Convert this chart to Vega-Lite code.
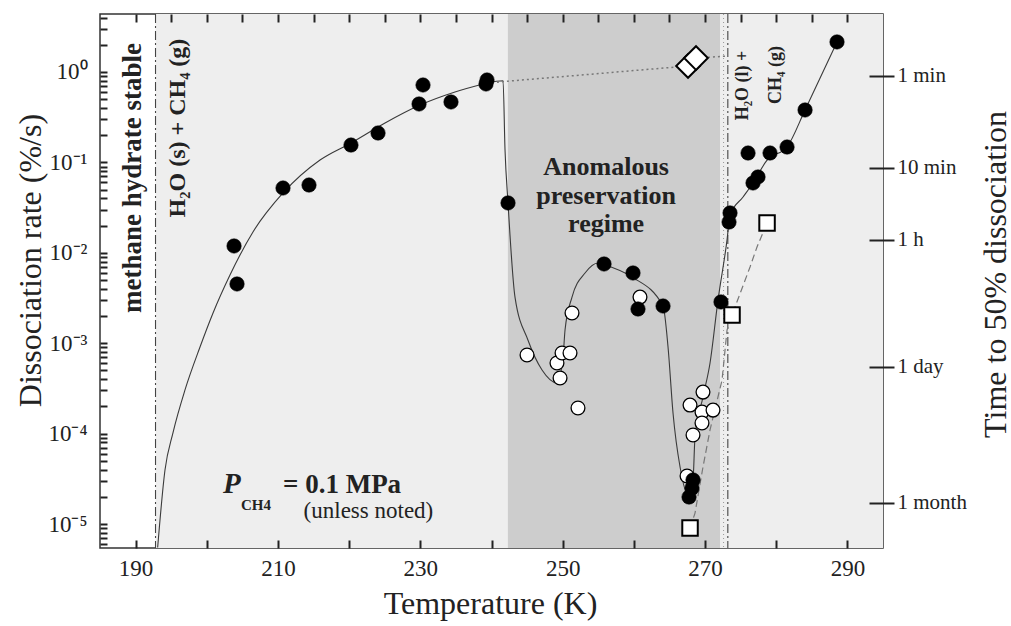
{
  "$schema": "https://vega.github.io/schema/vega-lite/v6.json",
  "width": 783,
  "height": 534,
  "autosize": {"type": "none"},
  "padding": {"left": 100, "top": 14, "right": 128, "bottom": 78},
  "background": "white",
  "config": {
    "view": {"stroke": "#333333", "strokeWidth": 1.5},
    "font": "Liberation Serif",
    "axis": {
      "domain": false, "grid": false,
      "labelFont": "Liberation Serif", "titleFont": "Liberation Serif",
      "labelColor": "#222222", "titleColor": "#222222",
      "titleFontWeight": "normal", "labelOverlap": false, "labelFlush": false
    }
  },
  "datasets": {
    "regions": [
      {"T1": 192.8, "T2": 295, "zone": "hydrate"},
      {"T1": 242.3, "T2": 272.1, "zone": "anomalous"}
    ],
    "vlines": [
      {"T": 192.8, "kind": "dashdot"},
      {"T": 273.2, "kind": "dashdot"},
      {"T": 272.6, "kind": "dotted"}
    ],
    "curves": [
      {"s": "fit", "o": 1, "T": 193.1, "r": 5.5e-6},
      {"s": "fit", "o": 2, "T": 194.13, "r": 3.96e-5},
      {"s": "fit", "o": 3, "T": 195.25, "r": 1.02e-4},
      {"s": "fit", "o": 4, "T": 196.94, "r": 3.04e-4},
      {"s": "fit", "o": 5, "T": 199.05, "r": 9.07e-4},
      {"s": "fit", "o": 6, "T": 200.88, "r": 2.16e-3},
      {"s": "fit", "o": 7, "T": 203.26, "r": 5.68e-3},
      {"s": "fit", "o": 8, "T": 206.49, "r": 0.017},
      {"s": "fit", "o": 9, "T": 210.71, "r": 0.0459},
      {"s": "fit", "o": 10, "T": 215.91, "r": 0.1063},
      {"s": "fit", "o": 11, "T": 220.26, "r": 0.164},
      {"s": "fit", "o": 12, "T": 225.04, "r": 0.273},
      {"s": "fit", "o": 13, "T": 229.96, "r": 0.431},
      {"s": "fit", "o": 14, "T": 234.87, "r": 0.601},
      {"s": "fit", "o": 15, "T": 239.37, "r": 0.756},
      {"s": "anom", "o": 1, "T": 239.37, "r": 0.756},
      {"s": "anom", "o": 2, "T": 241.62, "r": 0.8},
      {"s": "anom", "o": 3, "T": 241.9, "r": 0.137},
      {"s": "anom", "o": 4, "T": 242.32, "r": 0.0356},
      {"s": "anom", "o": 5, "T": 243.3, "r": 3.24e-3},
      {"s": "anom", "o": 6, "T": 245.13, "r": 1.08e-3},
      {"s": "anom", "o": 7, "T": 247.1, "r": 5.06e-4},
      {"s": "anom", "o": 8, "T": 249.2, "r": 3.63e-4},
      {"s": "anom", "o": 9, "T": 250.05, "r": 7.04e-4},
      {"s": "anom", "o": 10, "T": 250.33, "r": 1.4e-3},
      {"s": "anom", "o": 11, "T": 251.31, "r": 3.24e-3},
      {"s": "anom", "o": 12, "T": 253.14, "r": 5.98e-3},
      {"s": "anom", "o": 13, "T": 254.96, "r": 7.71e-3},
      {"s": "anom", "o": 14, "T": 255.95, "r": 7.33e-3},
      {"s": "anom", "o": 15, "T": 259.74, "r": 5.4e-3},
      {"s": "anom", "o": 16, "T": 264.1, "r": 2.58e-3},
      {"s": "anom", "o": 17, "T": 264.8, "r": 9.08e-4},
      {"s": "anom", "o": 18, "T": 265.5, "r": 1.69e-4},
      {"s": "anom", "o": 19, "T": 266.49, "r": 4.27e-5},
      {"s": "anom", "o": 20, "T": 267.61, "r": 2.09e-5},
      {"s": "anom", "o": 21, "T": 268.31, "r": 3.07e-5},
      {"s": "anom", "o": 22, "T": 268.59, "r": 9.17e-5},
      {"s": "anom", "o": 23, "T": 269.71, "r": 2.54e-4},
      {"s": "anom", "o": 24, "T": 270.7, "r": 6.04e-4},
      {"s": "anom", "o": 25, "T": 271.82, "r": 3.0e-3},
      {"s": "anom", "o": 26, "T": 273.09, "r": 0.0139},
      {"s": "anom", "o": 27, "T": 273.51, "r": 0.0262},
      {"s": "anom", "o": 28, "T": 275.34, "r": 0.0414},
      {"s": "anom", "o": 29, "T": 276.74, "r": 0.0592},
      {"s": "anom", "o": 30, "T": 278.71, "r": 0.106},
      {"s": "anom", "o": 31, "T": 281.52, "r": 0.148},
      {"s": "anom", "o": 32, "T": 284.05, "r": 0.38},
      {"s": "anom", "o": 33, "T": 288.54, "r": 2.15},
      {"s": "dot", "o": 1, "T": 239.37, "r": 0.756},
      {"s": "dot", "o": 2, "T": 267.61, "r": 1.165},
      {"s": "dot", "o": 3, "T": 268.73, "r": 1.428},
      {"s": "dot", "o": 4, "T": 273.1, "r": 1.5},
      {"s": "dash", "o": 1, "T": 267.89, "r": 9.03e-6},
      {"s": "dash", "o": 2, "T": 268.59, "r": 1.32e-5},
      {"s": "dash", "o": 3, "T": 269.71, "r": 4.27e-5},
      {"s": "dash", "o": 4, "T": 270.7, "r": 1.1e-4},
      {"s": "dash", "o": 5, "T": 272.39, "r": 3.92e-4},
      {"s": "dash", "o": 6, "T": 273.09, "r": 1.4e-3},
      {"s": "dash", "o": 7, "T": 273.79, "r": 2.05e-3},
      {"s": "dash", "o": 8, "T": 276.32, "r": 6.97e-3},
      {"s": "dash", "o": 9, "T": 277.3, "r": 0.0116},
      {"s": "dash", "o": 10, "T": 278.71, "r": 0.0214}
    ],
    "pts": [
      {"kind": "filled", "T": 203.83, "r": 0.0119},
      {"kind": "filled", "T": 204.25, "r": 0.00452},
      {"kind": "filled", "T": 210.71, "r": 0.0521},
      {"kind": "filled", "T": 214.36, "r": 0.0562},
      {"kind": "filled", "T": 220.26, "r": 0.1556},
      {"kind": "filled", "T": 224.06, "r": 0.2114},
      {"kind": "filled", "T": 229.82, "r": 0.4426},
      {"kind": "filled", "T": 230.38, "r": 0.718},
      {"kind": "filled", "T": 234.31, "r": 0.4657},
      {"kind": "filled", "T": 239.23, "r": 0.7366},
      {"kind": "filled", "T": 239.37, "r": 0.8155},
      {"kind": "filled", "T": 242.32, "r": 0.0356},
      {"kind": "filled", "T": 255.81, "r": 0.00752},
      {"kind": "filled", "T": 259.88, "r": 0.00598},
      {"kind": "filled", "T": 260.58, "r": 0.00239},
      {"kind": "filled", "T": 264.1, "r": 0.00258},
      {"kind": "filled", "T": 272.24, "r": 0.00286},
      {"kind": "filled", "T": 267.75, "r": 1.99e-5},
      {"kind": "filled", "T": 268.17, "r": 2.5e-5},
      {"kind": "filled", "T": 268.31, "r": 3.07e-5},
      {"kind": "filled", "T": 273.51, "r": 0.0276},
      {"kind": "filled", "T": 273.37, "r": 0.0219},
      {"kind": "filled", "T": 276.04, "r": 0.127},
      {"kind": "filled", "T": 279.13, "r": 0.127},
      {"kind": "filled", "T": 281.52, "r": 0.148},
      {"kind": "filled", "T": 276.74, "r": 0.0592},
      {"kind": "filled", "T": 277.44, "r": 0.069},
      {"kind": "filled", "T": 284.05, "r": 0.38},
      {"kind": "filled", "T": 288.54, "r": 2.15},
      {"kind": "open", "T": 244.99, "r": 7.4e-4},
      {"kind": "open", "T": 249.2, "r": 6.04e-4},
      {"kind": "open", "T": 249.91, "r": 7.79e-4},
      {"kind": "open", "T": 251.03, "r": 7.79e-4},
      {"kind": "open", "T": 249.63, "r": 4.12e-4},
      {"kind": "open", "T": 251.31, "r": 2.16e-3},
      {"kind": "open", "T": 252.15, "r": 1.92e-4},
      {"kind": "open", "T": 260.86, "r": 3.24e-3},
      {"kind": "open", "T": 269.71, "r": 2.88e-4},
      {"kind": "open", "T": 267.89, "r": 2.07e-4},
      {"kind": "open", "T": 269.57, "r": 1.73e-4},
      {"kind": "open", "T": 271.12, "r": 1.82e-4},
      {"kind": "open", "T": 269.57, "r": 1.31e-4},
      {"kind": "open", "T": 268.31, "r": 9.65e-5},
      {"kind": "open", "T": 267.47, "r": 3.4e-5},
      {"kind": "square", "T": 267.89, "r": 9.03e-6},
      {"kind": "square", "T": 273.79, "r": 2.05e-3},
      {"kind": "square", "T": 278.71, "r": 0.0214},
      {"kind": "diamond", "T": 267.61, "r": 1.165},
      {"kind": "diamond", "T": 268.73, "r": 1.428}
    ],
    "texts": [
      {"g": "methane", "T": 189.64, "r": 0.0672, "text": "methane hydrate stable"},
      {"g": "h2os", "T": 195.96, "r": 0.24, "text": "H₂O (s) + CH₄ (g)"},
      {"g": "h2ol", "T": 275.34, "r": 0.709, "text": "H₂O (l) +"},
      {"g": "h2ol", "T": 279.97, "r": 0.927, "text": "CH₄ (g)"},
      {"g": "anom", "T": 256.1, "r": 0.0726, "text": "Anomalous"},
      {"g": "anom", "T": 256.1, "r": 0.0347, "text": "preservation"},
      {"g": "anom", "T": 256.1, "r": 0.0168, "text": "regime"},
      {"g": "P", "T": 202.28, "r": 2.2e-5, "text": "P"},
      {"g": "sub", "T": 204.81, "r": 1.43e-5, "text": "CH4"},
      {"g": "mpa", "T": 210.71, "r": 2.2e-5, "text": "= 0.1 MPa"},
      {"g": "unless", "T": 213.6, "r": 1.16e-5, "text": "(unless noted)"}
    ],
    "timeticks": [
      {"sec": 60}, {"sec": 600}, {"sec": 3600}, {"sec": 86400}, {"sec": 2592000}
    ]
  },
  "layer": [
    {
      "layer": [
        {
          "data": {"name": "regions"},
          "mark": {"type": "rect"},
          "encoding": {
            "x": {"field": "T1", "type": "quantitative",
              "scale": {"domain": [185, 295], "nice": false, "zero": false},
              "axis": {
                "orient": "bottom", "title": "Temperature (K)", "ticks": true, "zindex": 2,
                "tickColor": "#222222", "tickWidth": 2, "tickOpacity": 1,
                "values": [190,195,200,205,210,215,220,225,230,235,240,245,250,255,260,265,270,275,280,285,290],
                "labelExpr": "datum.value % 20 == 10 ? datum.label : ''",
                "tickSize": 8, "offset": -8,
                "labelPadding": 9, "labelFontSize": 23,
                "titleFontSize": 32, "titleX": 390, "titleY": 73, "titleAlign": "center", "titleBaseline": "alphabetic"
              }},
            "x2": {"field": "T2"},
            "color": {"field": "zone", "type": "nominal", "legend": null,
              "scale": {"domain": ["hydrate", "anomalous"], "range": ["#eeeeee", "#cdcdcd"]}}
          }
        },
        {
          "data": {"name": "vlines"},
          "transform": [{"filter": "datum.kind == 'dashdot'"}],
          "mark": {"type": "rule", "color": "#444444", "strokeWidth": 1.1, "strokeDash": [9, 3, 2, 3]},
          "encoding": {"x": {"field": "T", "type": "quantitative", "scale": {"domain": [185, 295], "nice": false, "zero": false}}}
        },
        {
          "data": {"name": "vlines"},
          "transform": [{"filter": "datum.kind == 'dotted'"}],
          "mark": {"type": "rule", "color": "#999999", "strokeWidth": 1, "strokeDash": [1, 3]},
          "encoding": {"x": {"field": "T", "type": "quantitative", "scale": {"domain": [185, 295], "nice": false, "zero": false}}}
        },
        {
          "data": {"name": "curves"},
          "transform": [{"filter": "datum.s == 'fit' || datum.s == 'anom'"}],
          "mark": {"type": "line", "color": "#3a3a3a", "strokeWidth": 1.1, "clip": true, "interpolate": "monotone"},
          "encoding": {
            "x": {"field": "T", "type": "quantitative", "scale": {"domain": [185, 295], "nice": false, "zero": false}},
            "y": {"field": "r", "type": "quantitative",
              "scale": {"type": "log", "domain": [5.43e-6, 4.38], "nice": false},
              "axis": {
                "orient": "left", "title": "Dissociation rate (%/s)", "ticks": true, "zindex": 2,
                "tickColor": "#222222", "tickWidth": 2, "tickOpacity": 1,
                "values": [6e-6,7e-6,8e-6,9e-6,1e-5,2e-5,3e-5,4e-5,5e-5,6e-5,7e-5,8e-5,9e-5,0.0001,0.0002,0.0003,0.0004,0.0005,0.0006,0.0007,0.0008,0.0009,0.001,0.002,0.003,0.004,0.005,0.006,0.007,0.008,0.009,0.01,0.02,0.03,0.04,0.05,0.06,0.07,0.08,0.09,0.1,0.2,0.3,0.4,0.5,0.6,0.7,0.8,0.9,1,2,3,4],
                "labelExpr": "datum.value == 1 ? '10⁰' : datum.value == 0.1 ? '10⁻¹' : datum.value == 0.01 ? '10⁻²' : datum.value == 0.001 ? '10⁻³' : datum.value == 0.0001 ? '10⁻⁴' : datum.value == 0.00001 ? '10⁻⁵' : ''",
                "tickSize": 7, "offset": -7,
                "labelPadding": 13, "labelFontSize": 23,
                "titleFontSize": 32, "titleAngle": 270, "titleX": -77, "titleY": 246, "titleAlign": "center", "titleBaseline": "middle"
              }},
            "order": {"field": "o", "type": "quantitative"},
            "detail": {"field": "s"}
          }
        },
        {
          "data": {"name": "curves"},
          "transform": [{"filter": "datum.s == 'dot'"}],
          "mark": {"type": "line", "color": "#777777", "strokeWidth": 1.5, "strokeDash": [2, 3], "clip": true},
          "encoding": {
            "x": {"field": "T", "type": "quantitative", "scale": {"domain": [185, 295], "nice": false, "zero": false}},
            "y": {"field": "r", "type": "quantitative", "scale": {"type": "log", "domain": [5.43e-6, 4.38], "nice": false}},
            "order": {"field": "o", "type": "quantitative"}
          }
        },
        {
          "data": {"name": "curves"},
          "transform": [{"filter": "datum.s == 'dash'"}],
          "mark": {"type": "line", "color": "#777777", "strokeWidth": 1.2, "strokeDash": [7, 4], "clip": true},
          "encoding": {
            "x": {"field": "T", "type": "quantitative", "scale": {"domain": [185, 295], "nice": false, "zero": false}},
            "y": {"field": "r", "type": "quantitative", "scale": {"type": "log", "domain": [5.43e-6, 4.38], "nice": false}},
            "order": {"field": "o", "type": "quantitative"}
          }
        },
        {
          "data": {"name": "pts"},
          "transform": [{"filter": "datum.kind == 'open'"}],
          "mark": {"type": "point", "shape": "circle", "filled": true, "fill": "white", "stroke": "black", "strokeWidth": 1.3, "size": 190, "opacity": 1},
          "encoding": {
            "x": {"field": "T", "type": "quantitative", "scale": {"domain": [185, 295], "nice": false, "zero": false}},
            "y": {"field": "r", "type": "quantitative", "scale": {"type": "log", "domain": [5.43e-6, 4.38], "nice": false}}
          }
        },
        {
          "data": {"name": "pts"},
          "transform": [{"filter": "datum.kind == 'filled'"}],
          "mark": {"type": "point", "shape": "circle", "filled": true, "fill": "black", "stroke": "black", "strokeWidth": 0.5, "size": 210, "opacity": 1},
          "encoding": {
            "x": {"field": "T", "type": "quantitative", "scale": {"domain": [185, 295], "nice": false, "zero": false}},
            "y": {"field": "r", "type": "quantitative", "scale": {"type": "log", "domain": [5.43e-6, 4.38], "nice": false}}
          }
        },
        {
          "data": {"name": "pts"},
          "transform": [{"filter": "datum.kind == 'square'"}],
          "mark": {"type": "point", "shape": "square", "filled": true, "fill": "white", "stroke": "black", "strokeWidth": 2, "size": 240, "opacity": 1},
          "encoding": {
            "x": {"field": "T", "type": "quantitative", "scale": {"domain": [185, 295], "nice": false, "zero": false}},
            "y": {"field": "r", "type": "quantitative", "scale": {"type": "log", "domain": [5.43e-6, 4.38], "nice": false}}
          }
        },
        {
          "data": {"name": "pts"},
          "transform": [{"filter": "datum.kind == 'diamond'"}],
          "mark": {"type": "point", "shape": "diamond", "filled": true, "fill": "white", "stroke": "black", "strokeWidth": 2, "size": 560, "opacity": 1},
          "encoding": {
            "x": {"field": "T", "type": "quantitative", "scale": {"domain": [185, 295], "nice": false, "zero": false}},
            "y": {"field": "r", "type": "quantitative", "scale": {"type": "log", "domain": [5.43e-6, 4.38], "nice": false}}
          }
        },
        {
          "data": {"name": "texts"},
          "transform": [{"filter": "datum.g == 'methane'"}],
          "mark": {"type": "text", "angle": 270, "align": "center", "baseline": "middle", "font": "Liberation Serif", "fontSize": 27, "fontWeight": "bold", "color": "#222222"},
          "encoding": {
            "x": {"field": "T", "type": "quantitative", "scale": {"domain": [185, 295], "nice": false, "zero": false}},
            "y": {"field": "r", "type": "quantitative", "scale": {"type": "log", "domain": [5.43e-6, 4.38], "nice": false}},
            "text": {"field": "text"}
          }
        },
        {
          "data": {"name": "texts"},
          "transform": [{"filter": "datum.g == 'h2os'"}],
          "mark": {"type": "text", "angle": 270, "align": "center", "baseline": "middle", "font": "Liberation Serif", "fontSize": 24, "fontWeight": "bold", "color": "#222222"},
          "encoding": {
            "x": {"field": "T", "type": "quantitative", "scale": {"domain": [185, 295], "nice": false, "zero": false}},
            "y": {"field": "r", "type": "quantitative", "scale": {"type": "log", "domain": [5.43e-6, 4.38], "nice": false}},
            "text": {"field": "text"}
          }
        },
        {
          "data": {"name": "texts"},
          "transform": [{"filter": "datum.g == 'h2ol'"}],
          "mark": {"type": "text", "angle": 270, "align": "center", "baseline": "middle", "font": "Liberation Serif", "fontSize": 18, "fontWeight": "bold", "color": "#222222"},
          "encoding": {
            "x": {"field": "T", "type": "quantitative", "scale": {"domain": [185, 295], "nice": false, "zero": false}},
            "y": {"field": "r", "type": "quantitative", "scale": {"type": "log", "domain": [5.43e-6, 4.38], "nice": false}},
            "text": {"field": "text"}
          }
        },
        {
          "data": {"name": "texts"},
          "transform": [{"filter": "datum.g == 'anom'"}],
          "mark": {"type": "text", "align": "center", "baseline": "alphabetic", "font": "Liberation Serif", "fontSize": 26, "fontWeight": "bold", "color": "#222222"},
          "encoding": {
            "x": {"field": "T", "type": "quantitative", "scale": {"domain": [185, 295], "nice": false, "zero": false}},
            "y": {"field": "r", "type": "quantitative", "scale": {"type": "log", "domain": [5.43e-6, 4.38], "nice": false}},
            "text": {"field": "text"}
          }
        },
        {
          "data": {"name": "texts"},
          "transform": [{"filter": "datum.g == 'P'"}],
          "mark": {"type": "text", "align": "left", "baseline": "alphabetic", "font": "Liberation Serif", "fontSize": 29, "fontWeight": "bold", "fontStyle": "italic", "color": "#222222"},
          "encoding": {
            "x": {"field": "T", "type": "quantitative", "scale": {"domain": [185, 295], "nice": false, "zero": false}},
            "y": {"field": "r", "type": "quantitative", "scale": {"type": "log", "domain": [5.43e-6, 4.38], "nice": false}},
            "text": {"field": "text"}
          }
        },
        {
          "data": {"name": "texts"},
          "transform": [{"filter": "datum.g == 'sub'"}],
          "mark": {"type": "text", "align": "left", "baseline": "alphabetic", "font": "Liberation Serif", "fontSize": 15, "fontWeight": "bold", "color": "#222222"},
          "encoding": {
            "x": {"field": "T", "type": "quantitative", "scale": {"domain": [185, 295], "nice": false, "zero": false}},
            "y": {"field": "r", "type": "quantitative", "scale": {"type": "log", "domain": [5.43e-6, 4.38], "nice": false}},
            "text": {"field": "text"}
          }
        },
        {
          "data": {"name": "texts"},
          "transform": [{"filter": "datum.g == 'mpa'"}],
          "mark": {"type": "text", "align": "left", "baseline": "alphabetic", "font": "Liberation Serif", "fontSize": 27, "fontWeight": "bold", "color": "#222222"},
          "encoding": {
            "x": {"field": "T", "type": "quantitative", "scale": {"domain": [185, 295], "nice": false, "zero": false}},
            "y": {"field": "r", "type": "quantitative", "scale": {"type": "log", "domain": [5.43e-6, 4.38], "nice": false}},
            "text": {"field": "text"}
          }
        },
        {
          "data": {"name": "texts"},
          "transform": [{"filter": "datum.g == 'unless'"}],
          "mark": {"type": "text", "align": "left", "baseline": "alphabetic", "font": "Liberation Serif", "fontSize": 23, "color": "#222222"},
          "encoding": {
            "x": {"field": "T", "type": "quantitative", "scale": {"domain": [185, 295], "nice": false, "zero": false}},
            "y": {"field": "r", "type": "quantitative", "scale": {"type": "log", "domain": [5.43e-6, 4.38], "nice": false}},
            "text": {"field": "text"}
          }
        }
      ]
    },
    {
      "data": {"name": "timeticks"},
      "mark": {"type": "point", "opacity": 0},
      "encoding": {
        "x": {"datum": 240, "type": "quantitative",
          "scale": {"domain": [185, 295], "nice": false, "zero": false},
          "axis": {
            "orient": "top", "title": null, "labels": false, "ticks": true, "zindex": 2,
            "tickColor": "#222222", "tickWidth": 2, "tickOpacity": 1,
            "values": [190,195,200,205,210,215,220,225,230,235,240,245,250,255,260,265,270,275,280,285,290],
            "tickSize": 8, "offset": -8
          }},
        "y": {"field": "sec", "type": "quantitative",
          "scale": {"type": "log", "domain": [12.84, 7.99e6], "nice": false, "reverse": true},
          "axis": {
            "orient": "right", "title": "Time to 50% dissociation", "ticks": true, "zindex": 2,
            "tickColor": "#222222", "tickWidth": 2, "tickOpacity": 1,
            "values": [60, 600, 3600, 86400, 2592000],
            "labelExpr": "datum.value == 60 ? '1 min' : datum.value == 600 ? '10 min' : datum.value == 3600 ? '1 h' : datum.value == 86400 ? '1 day' : '1 month'",
            "tickSize": 25, "offset": -14, "labelPadding": 3, "labelFontSize": 21,
            "titleFontSize": 32, "titleAngle": 270, "titleX": 126, "titleY": 260, "titleAlign": "center", "titleBaseline": "middle"
          }}
      }
    }
  ],
  "resolve": {"scale": {"y": "independent"}, "axis": {"x": "independent"}}
}
